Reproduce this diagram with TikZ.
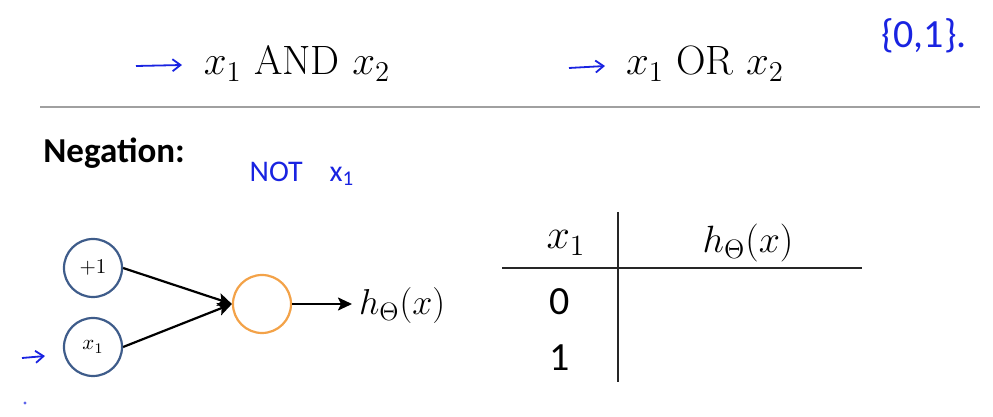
\RequirePackage{fix-cm}
\documentclass[tikz,border=0pt]{standalone}
\usepackage{fontspec}
\usetikzlibrary{arrows.meta}
\newfontfamily\calib{Carlito}
\definecolor{penblue}{RGB}{25,35,225}
\definecolor{inblue}{RGB}{62,92,138}
\definecolor{unitorange}{RGB}{243,162,72}
\definecolor{rulegray}{RGB}{160,160,160}
\newcommand{\fs}[1]{\fontsize{#1}{1.2\dimexpr #1pt\relax}\selectfont}
\tikzset{
  unit/.style={circle, draw=#1, line width=1.1pt, minimum size=29pt, inner sep=0pt},
  wire/.style={line width=1.1pt, -{Stealth[length=7pt, width=6.5pt, inset=1.5pt]}},
  pen/.style={penblue, line width=0.9pt, -{Straight Barb[length=4pt, width=6pt]}},
}
\begin{document}
\begin{tikzpicture}[x=0.5pt, y=-0.5pt]
  \useasboundingbox (0,0) rectangle (993,417);
  % top line: the other two gates
  \coordinate (a1) at (136,66);
  \coordinate (a2) at (182,65);
  \node[font=\fs{20.5}, anchor=base] (andgate) at (297,75) {$x_1$ AND $x_2$};
  \draw[pen] (a1) -- (a2);
  \coordinate (b1) at (569,68);
  \coordinate (b2) at (605,66);
  \node[font=\fs{20.5}, anchor=base] (orgate) at (705,75) {$x_1$ OR $x_2$};
  \draw[pen] (b1) -- (b2);
  \node[font=\calib\fs{20}, text=penblue] (bits) at (924,36) {\{0,1\}.};
  % separator
  \coordinate (r1) at (40,107);
  \coordinate (r2) at (980,107);
  \draw[rulegray, line width=1pt] (r1) -- (r2);
  % negation title
  \node[font=\calib\bfseries\fs{17.5}, anchor=base west, inner sep=0pt] (title) at (43,163) {Negation:};
  \node[font=\calib\fs{15}, text=penblue] (notx) at (302,174) {NOT\hspace{0.9em}x\textsubscript{1}};
  % network
  \node[unit=inblue, font=\fs{10.5}] (bias) at (93,268) {$+1$};
  \node[unit=inblue, font=\fs{10.5}] (xin) at (93,347) {$x_1$};
  \node[unit=unitorange] (out) at (262,304) {};
  \node[font=\fs{18}, anchor=west] (hyp) at (352,306) {$h_\Theta(x)$};
  \draw[wire] (bias.east) -- (out.west);
  \draw[wire] (xin.east) -- (out.west);
  \draw[wire] (out.east) -- (out.east -| hyp.west);
  \coordinate (c1) at (22,358);
  \coordinate (c2) at (45,356);
  \draw[pen] (c1) -- (c2);
  \node[circle, fill=penblue!70, inner sep=0.6pt] (dot) at (25,403) {};
  % truth table
  \coordinate (v1) at (618,212);
  \coordinate (v2) at (618,382);
  \coordinate (h1) at (502,268);
  \coordinate (h2) at (862,268);
  \draw[line width=0.8pt, black!85] (v1) -- (v2);
  \draw[line width=0.8pt, black!85] (h1) -- (h2);
  \node[font=\fs{21}] (colx) at (566,243) {$x_1$};
  \node[font=\fs{19}] (colh) at (748,243) {$h_\Theta(x)$};
  \node[font=\calib\fs{20}] (row0) at (560,302) {0};
  \node[font=\calib\fs{20}] (row1) at (560,358) {1};
\end{tikzpicture}
\end{document}
